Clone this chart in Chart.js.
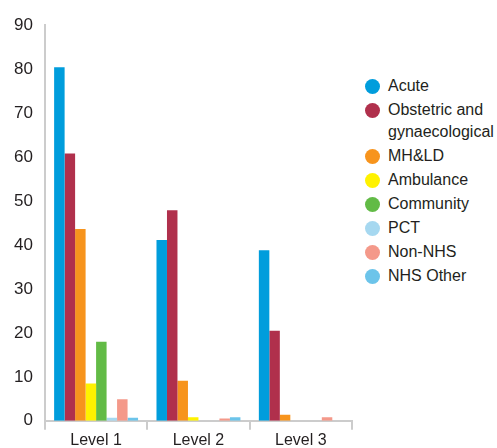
<!DOCTYPE html>
<html>
<head>
<meta charset="utf-8">
<script src="https://cdn.jsdelivr.net/npm/chart.js@4/dist/chart.umd.min.js"></script>
<style>
    body { margin: 0; background: #fff; font-family: "Liberation Sans", Arial, sans-serif; color: #231f20; }
    #wrap { position: relative; width: 497px; height: 448px; overflow: hidden; }
    #chartBox { position: absolute; left: 0; top: 0; width: 360px; height: 451px; }
    #legend { position: absolute; left: 365px; top: 75px; font-size: 16px; }
    .item { display: flex; align-items: flex-start; margin-bottom: 2px; line-height: 22px; }
    .dot { width: 15px; height: 15px; border-radius: 50%; margin-top: 4px; margin-right: 8px; flex: none; }
    .txt { width: 109px; }
</style>
</head>
<body>
<div id="wrap">
    <div id="chartBox"><canvas id="barChart"></canvas></div>
    <div id="legend"></div>
</div>
<script>
// Chart data
const categories = ['Level 1', 'Level 2', 'Level 3'];
const seriesNames = ['Acute', 'Obstetric and gynaecological', 'MH&LD', 'Ambulance', 'Community', 'PCT', 'Non-NHS', 'NHS Other'];
const seriesColors = ['#009ddc', '#b0304c', '#f7941d', '#fff200', '#62bb46', '#a6d8f0', '#f4998a', '#6cc4ea'];

const acute = [80.4, 41.1, 38.8];
const obstetric = [60.8, 47.9, 20.5];
const mhld = [43.6, 9.1, 1.4];
const ambulance = [8.5, 0.8, 0];
const community = [18.0, 0, 0];
const pct = [0.7, 0, 0];
const nonNhs = [4.9, 0.5, 0.8];
const nhsOther = [0.7, 0.8, 0];

const seriesValues = [acute, obstetric, mhld, ambulance, community, pct, nonNhs, nhsOther];
const yTicks = [0, 10, 20, 30, 40, 50, 60, 70, 80, 90];

const fontFamily = '"Liberation Sans", Arial, sans-serif';

// Build chart
new Chart(document.getElementById('barChart'), {
    type: 'bar',
    data: {
        labels: categories,
        datasets: seriesNames.map((name, i) => ({
            label: name,
            data: seriesValues[i],
            backgroundColor: seriesColors[i],
            borderWidth: 0,
            categoryPercentage: 0.82,
            barPercentage: 1.0
        }))
    },
    options: {
        responsive: true,
        maintainAspectRatio: false,
        animation: false,
        layout: { padding: { top: 25, left: 2, right: 8, bottom: 0 } },
        plugins: {
            legend: { display: false },
            tooltip: { enabled: false }
        },
        scales: {
            x: {
                grid: {
                    display: true,
                    offset: true,
                    drawOnChartArea: false,
                    tickLength: 9,
                    color: '#cccccc',
                    lineWidth: 2
                },
                border: { display: true, color: '#cccccc', width: 2 },
                ticks: {
                    padding: 1,
                    color: '#231f20',
                    font: { family: fontFamily, size: 16 }
                }
            },
            y: {
                min: yTicks[0],
                max: yTicks[yTicks.length - 1],
                grid: { display: false, drawTicks: false },
                border: { display: true, color: '#cccccc', width: 2 },
                afterBuildTicks: axis => { axis.ticks = yTicks.map(v => ({ value: v })); },
                ticks: {
                    padding: 12,
                    color: '#231f20',
                    font: { family: fontFamily, size: 17 }
                }
            }
        }
    }
});

// Legend
const legendEl = document.getElementById('legend');
legendEl.innerHTML = seriesNames.map((name, i) => `
    <div class="item">
        <span class="dot" style="background:${seriesColors[i]}"></span>
        <span class="txt">${name.replace('&', '&amp;')}</span>
    </div>
`).join('');
</script>
</body>
</html>
